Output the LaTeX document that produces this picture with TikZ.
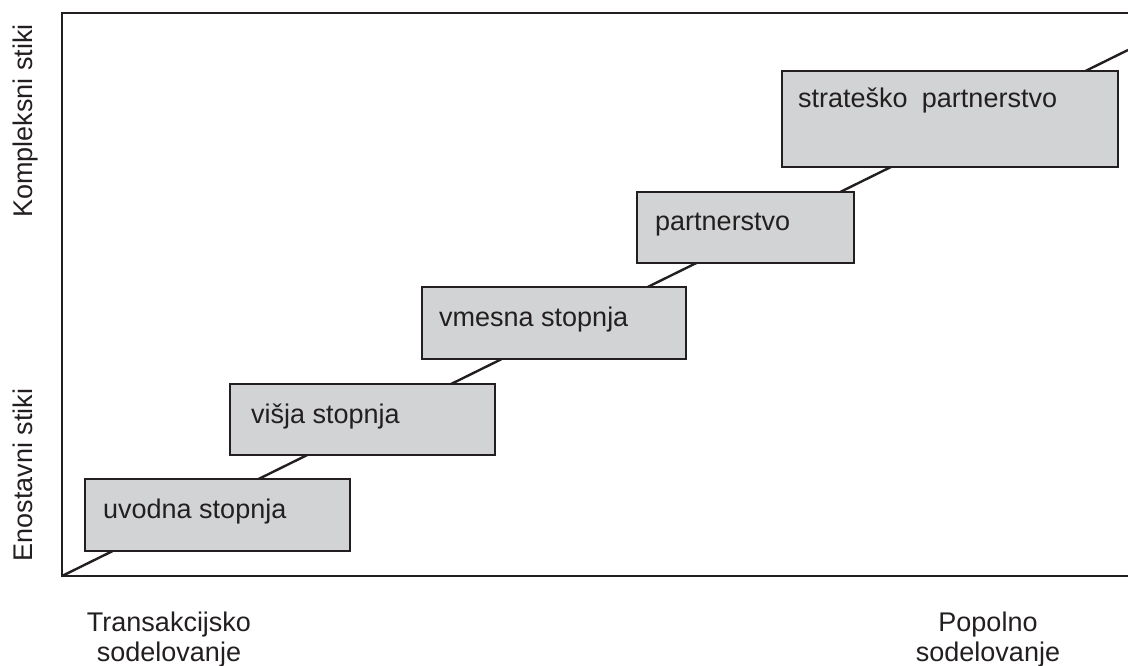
\documentclass[tikz,border=0pt]{standalone}
\usepackage{fontspec}
\setmainfont{Liberation Sans}
\usetikzlibrary{calc}
\definecolor{boxfill}{HTML}{D1D3D4}
\definecolor{ink}{HTML}{231F20}
\begin{document}
\begin{tikzpicture}[x=1pt,y=-1pt,
  stagebox/.style={draw=ink, line width=2.6pt, fill=boxfill, anchor=north west,
    inner sep=0pt, outer sep=0pt},
  lbl/.style={font=\fontsize{27}{30}\selectfont, text=ink, inner sep=0pt},
  frame/.style={draw=ink, line width=2.6pt},
  diag/.style={draw=ink, line width=2.4pt}]
\useasboundingbox (0,0) rectangle (1128,666);
% frame
\coordinate (tr) at (1128,13);
\coordinate (o) at (62,576);
\coordinate (br) at (1128,576);
\coordinate (e) at (1128,50);
\draw[frame] (tr) -| (o) -- (br);
\draw[diag] (o) -- (e);
% stages
\node[stagebox, minimum width=265, minimum height=72] (b1) at (85,479) {};
\node[lbl, anchor=base west] (t1) at ($(b1.north west)+(18,39)$) {uvodna stopnja};
\node[stagebox, minimum width=265, minimum height=71] (b2) at (230,384) {};
\node[lbl, anchor=base west] (t2) at ($(b2.north west)+(21,39)$) {višja stopnja};
\node[stagebox, minimum width=264, minimum height=72] (b3) at (422,287) {};
\node[lbl, anchor=base west] (t3) at ($(b3.north west)+(17,39)$) {vmesna stopnja};
\node[stagebox, minimum width=217, minimum height=71] (b4) at (637,192) {};
\node[lbl, anchor=base west] (t4) at ($(b4.north west)+(18,38)$) {partnerstvo};
\node[stagebox, minimum width=336, minimum height=96] (b5) at (782,71) {};
\node[lbl, anchor=base west] (t5) at ($(b5.north west)+(16,37)$) {strateško\hspace{0.25em} partnerstvo};
% axis labels
\node[lbl, anchor=base, rotate=90] (yk) at (32,121) {Kompleksni stiki};
\node[lbl, anchor=base, rotate=90] (ye) at (32,475) {Enostavni stiki};
\node[lbl, align=center, anchor=north] (xt) at (169,612) {Transakcijsko\\sodelovanje};
\node[lbl, align=center, anchor=north] (xp) at (988,612) {Popolno\\sodelovanje};
\end{tikzpicture}
\end{document}
